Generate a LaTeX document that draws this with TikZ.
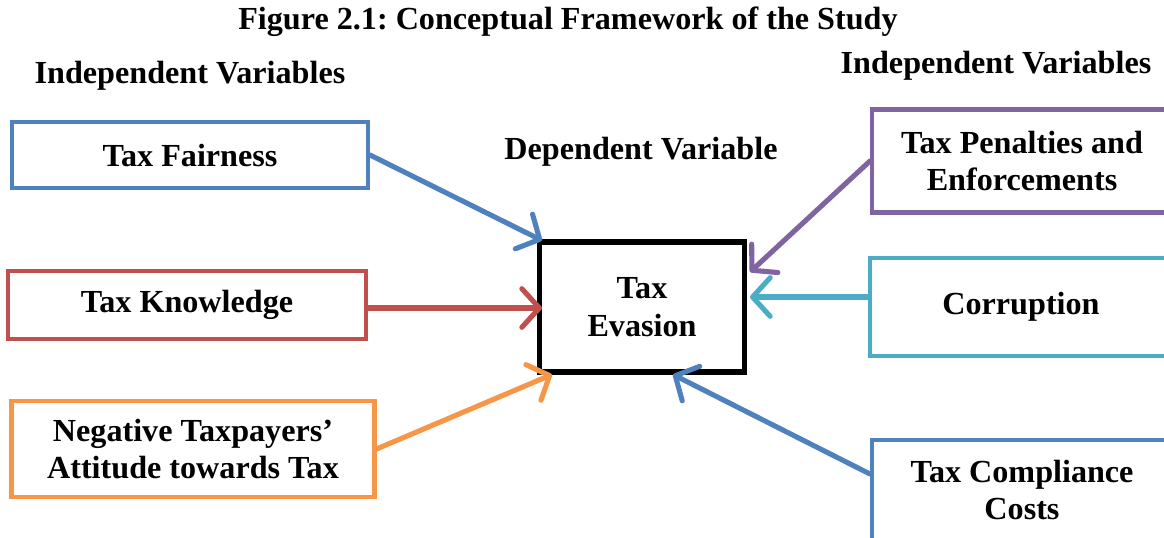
\documentclass[tikz,border=0pt]{standalone}
\usepackage{fontspec}
\setmainfont{Liberation Serif}
\usepackage{xcolor}
\usetikzlibrary{arrows.meta,calc}
\definecolor{boxblue}{HTML}{4F81BD}
\definecolor{boxred}{HTML}{C0504D}
\definecolor{boxorange}{HTML}{F79646}
\definecolor{boxpurple}{HTML}{8064A2}
\definecolor{boxaqua}{HTML}{4BACC6}
\frenchspacing

\begin{document}
\begin{tikzpicture}[
  x=0.02cm, y=-0.02cm,
  var/.style={rectangle, draw, line width=2.3pt, inner sep=0pt, align=center, font=\fontsize{18.3}{21.5}\selectfont\bfseries},
  lbl/.style={font=\fontsize{18.3}{21.5}\selectfont\bfseries},
  arr/.style={line width=2.9pt, line cap=round, -{Straight Barb[length=10pt,width=22pt,line cap=round,line join=round]}}
]
\useasboundingbox (0,0) rectangle (1164,538);
\clip (0,0) rectangle (1164,538);

% titles
\node[lbl] (title) at (568,22) {Figure 2.1: Conceptual Framework of the Study};
\node[lbl] (indl) at (190,76) {Independent Variables};
\node[lbl] (indr) at (996,66) {Independent Variables};
\node[lbl] (dep) at (641,152) {Dependent Variable};

% dependent variable
\node[var, line width=2.9pt, minimum width=205*0.02cm, minimum height=130*0.02cm] (eva) at (642,307) {Tax\\Evasion};

% left column
\node[var, draw=boxblue, minimum width=356*0.02cm, minimum height=66*0.02cm] (fair) at (190,155) {Tax Fairness};
\node[var, draw=boxred, minimum width=358*0.02cm, minimum height=68*0.02cm] (know) at (187,305) {Tax Knowledge};
\node[var, draw=boxorange, minimum width=363*0.02cm, minimum height=96*0.02cm] (neg) at (193,449) {Negative Taxpayers'\\Attitude towards Tax};

% right column
\node[var, draw=boxpurple, minimum width=300*0.02cm, minimum height=103*0.02cm] (pen) at (1022,161) {Tax Penalties and\\Enforcements};
\node[var, draw=boxaqua, minimum width=302*0.02cm, minimum height=98*0.02cm] (corr) at (1021,307) {Corruption};
\node[var, draw=boxblue, minimum width=300*0.02cm, minimum height=100*0.02cm] (comp) at (1022,490) {Tax Compliance\\Costs};

% arrows
\draw[arr, boxblue] (fair.east) -- ($(eva.north west)+(5,1)$);
\draw[arr, boxred] ($(know.east)+(0,3)$) -- ($(eva.west)+(5,1)$);
\draw[arr, boxorange] (neg.east) -- ($(eva.south west)+(15,0)$);
\draw[arr, boxpurple] (pen.west) -- ($(eva.east)+(3,-35)$);
\draw[arr, boxaqua] ($(corr.west)+(0,-10)$) -- ($(eva.east)+(3,-10)$);
\draw[arr, boxblue] ($(comp.west)+(0,-16)$) -- ($(eva.south)+(31,0)$);
\end{tikzpicture}
\end{document}
